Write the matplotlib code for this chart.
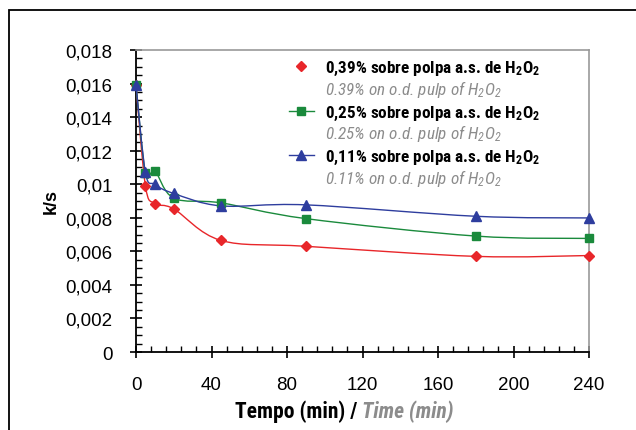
import numpy as np
import matplotlib
matplotlib.use("Agg")
import matplotlib.pyplot as plt
from matplotlib.path import Path
from matplotlib.patches import PathPatch, Rectangle
from matplotlib.ticker import MultipleLocator, FuncFormatter

# Reaction time (min) and rate constant k/s for each H2O2 charge
tempo = [0, 5, 10, 20, 45, 90, 180, 240]
k_039 = [0.0159, 0.0099, 0.00885, 0.00853, 0.00665, 0.0063, 0.0057, 0.00575]
k_025 = [0.0159, 0.01065, 0.0108, 0.00917, 0.00889, 0.00795, 0.00691, 0.00677]
k_011 = [0.0159, 0.0107, 0.00999, 0.00945, 0.00871, 0.00877, 0.00809, 0.00799]

rotulos_pt = ["0,39% sobre polpa a.s. de $\\mathregular{H_2O_2}$",
              "0,25% sobre polpa a.s. de $\\mathregular{H_2O_2}$",
              "0,11% sobre polpa a.s. de $\\mathregular{H_2O_2}$"]
rotulos_en = ["0.39% on o.d. pulp of $\\mathregular{H_2O_2}$",
              "0.25% on o.d. pulp of $\\mathregular{H_2O_2}$",
              "0.11% on o.d. pulp of $\\mathregular{H_2O_2}$"]

cores = ["#e8262a", "#1a8a3c", "#2e3d9e"]
marcadores = ["D", "s", "^"]
tam_marc = [5.5, 5.5, 6.5]

narrow = ["Roboto Condensed", "Barlow Condensed", "DejaVu Sans"]
regular = ["Liberation Sans", "DejaVu Sans"]
cinza = "#8c8c8c"


def smooth_path(x, y):
    """Catmull-Rom style bezier through the points (like a smoothed line)."""
    p = np.column_stack([x, y]).astype(float)
    verts = [p[0]]
    codes = [Path.MOVETO]
    n = len(p)
    for i in range(n - 1):
        p0 = p[i - 1] if i > 0 else p[i]
        p1, p2 = p[i], p[i + 1]
        p3 = p[i + 2] if i + 2 < n else p[i + 1]
        c1 = p1 + (p2 - p0) / 6.0
        c2 = p2 - (p3 - p1) / 6.0
        verts += [c1, c2, p2]
        codes += [Path.CURVE4] * 3
    return Path(verts, codes)


fig = plt.figure(figsize=(6.36, 4.31), dpi=100)
W, H = 636, 431

# outer frame
fig.patches.append(Rectangle((9 / W, -0.1), 1.0, 1.1 - 11 / H, transform=fig.transFigure,
                             fill=False, edgecolor="black", linewidth=1.3))

ax = fig.add_axes([136 / W, 1 - 353 / H, (589 - 136) / W, (353 - 51) / H])

for serie, cor, m, ms in zip([k_039, k_025, k_011], cores, marcadores, tam_marc):
    ax.add_patch(PathPatch(smooth_path(tempo, serie), facecolor="none",
                           edgecolor=cor, linewidth=1.0, zorder=3))
    ax.plot(tempo, serie, linestyle="none", marker=m, markersize=ms,
            color=cor, markeredgecolor=cor, zorder=4, clip_on=False)

ax.set_xlim(0, 240)
ax.set_ylim(0, 0.018)
ax.xaxis.set_major_locator(MultipleLocator(40))
ax.xaxis.set_minor_locator(MultipleLocator(8))
ax.yaxis.set_major_locator(MultipleLocator(0.002))
ax.yaxis.set_minor_locator(MultipleLocator(0.0005))
ax.yaxis.set_major_formatter(FuncFormatter(
    lambda v, _: "0" if v == 0 else ("%.3f" % v).rstrip("0").replace(".", ",")))

for s in ["left", "bottom"]:
    ax.spines[s].set_color("black")
    ax.spines[s].set_linewidth(1.3)
for s in ["top", "right"]:
    ax.spines[s].set_color("#999999")
    ax.spines[s].set_linewidth(1.2)

ax.tick_params(which="major", direction="inout", length=8, width=1.2, labelsize=13.5)
ax.tick_params(which="minor", direction="in", length=4, width=1.0)
ax.tick_params(axis="x", which="major", pad=13)
ax.tick_params(axis="y", which="major", pad=13)
for lbl in ax.get_xticklabels() + ax.get_yticklabels():
    lbl.set_family(regular)

ax.set_ylabel("k/s", fontfamily=regular, fontweight="bold", fontsize=13)
ax.yaxis.set_label_coords((60 - 136) / (589 - 136), 0.5)

# x label: Portuguese in black, English in grey italic
yl = 1 - 412 / H
fig.text(362 / W, yl, "Tempo (min) / ", ha="right", va="center",
         fontfamily=narrow, fontweight="bold", fontsize=15.5, color="black")
fig.text(362 / W, yl, "Time (min)", ha="left", va="center",
         fontfamily=narrow, fontweight="bold", fontstyle="italic", fontsize=15.5,
         color=cinza)

# legend, drawn by hand to get the two-line bilingual entries
base0 = 73
for i, (cor, m, ms) in enumerate(zip(cores, marcadores, tam_marc)):
    base = base0 + 44.5 * i
    ym = 1 - (base - 6) / H
    if i > 0:
        fig.lines.append(plt.Line2D([289 / W, 314 / W], [ym, ym], color=cor,
                                    linewidth=1.0, transform=fig.transFigure))
    fig.lines.append(plt.Line2D([301 / W], [ym], marker=m, markersize=ms, color=cor,
                                linestyle="none", transform=fig.transFigure))
    fig.text(325 / W, 1 - base / H, rotulos_pt[i], ha="left", va="baseline",
             fontfamily=narrow, fontweight="bold", fontsize=12.3, color="black")
    fig.text(325 / W, 1 - (base + 22) / H, rotulos_en[i], ha="left", va="baseline",
             fontfamily=narrow, fontstyle="italic", fontsize=12.3, color=cinza)

fig.savefig("out.png", dpi=100)
